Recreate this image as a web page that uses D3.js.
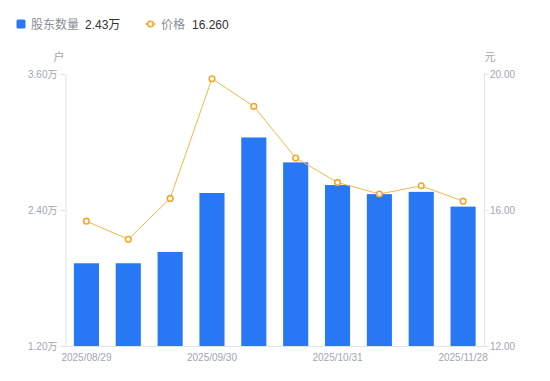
<!DOCTYPE html>
<html>
<head>
<meta charset="utf-8">
<script src="https://cdn.jsdelivr.net/npm/d3@7"></script>
<style>
  body { margin: 0; background: #fff; }
  text { font-family: "Liberation Sans", Arial, "Noto Sans CJK SC", sans-serif; }
</style>
</head>
<body>
<div id="chart"></div>
<script>
const dates = ["2025/08/29", "2025/09/10", "2025/09/19", "2025/09/30", "2025/10/10",
               "2025/10/20", "2025/10/31", "2025/11/10", "2025/11/20", "2025/11/28"];
const holders = [1.93, 1.93, 2.03, 2.55, 3.04, 2.82, 2.62, 2.54, 2.56, 2.43]; // 万户
const prices = [15.67, 15.14, 16.34, 19.86, 19.05, 17.53, 16.81, 16.47, 16.71, 16.26];
const shownDates = ["2025/08/29", "2025/09/30", "2025/10/31", "2025/11/28"];
const leftTicks = [1.2, 2.4, 3.6];
const rightTicks = [12, 16, 20];

(() => {
    const W = 550, H = 381;
    const margin = { top: 74, right: 66, bottom: 35, left: 65.5 };
    const width = W - margin.left - margin.right;
    const height = H - margin.top - margin.bottom;

    const barColor = "#2877F5";
    const lineColor = "#F7B64A";
    const dotColor = "#F5A729";
    const axisColor = "#E3E4E8";
    const tickText = "#A3A6B0";

    const root = d3.select("#chart").append("svg")
        .attr("width", W)
        .attr("height", H);

    const svg = root.append("g")
        .attr("transform", `translate(${margin.left},${margin.top})`);

    const x = d3.scaleBand()
        .domain(dates)
        .range([0, width])
        .paddingInner(0.4)
        .paddingOuter(0.2);

    const yL = d3.scaleLinear().domain([1.2, 3.6]).range([height, 0]);
    const yR = d3.scaleLinear().domain([12, 20]).range([height, 0]);

    // Bars
    svg.selectAll("rect.bar")
        .data(holders)
        .enter().append("rect")
        .attr("class", "bar")
        .attr("x", (d, i) => x(dates[i]))
        .attr("y", d => yL(d))
        .attr("width", x.bandwidth())
        .attr("height", d => height - yL(d))
        .attr("fill", barColor);

    // Axes
    const styleAxis = g => {
        g.select(".domain").attr("stroke", axisColor);
        g.selectAll(".tick line").attr("stroke", axisColor);
        g.selectAll(".tick text").attr("fill", tickText).style("font-size", "10px");
    };

    svg.append("g")
        .call(d3.axisLeft(yL).tickValues(leftTicks).tickSize(5).tickSizeOuter(0)
            .tickFormat(d => d3.format(".2f")(d) + "万"))
        .call(styleAxis)
        .call(g => g.selectAll(".tick text").attr("x", -8));

    svg.append("g")
        .attr("transform", `translate(${width},0)`)
        .call(d3.axisRight(yR).tickValues(rightTicks).tickSize(5).tickSizeOuter(0)
            .tickFormat(d3.format(".2f")))
        .call(styleAxis)
        .call(g => g.selectAll(".tick text").attr("x", 6));

    svg.append("g")
        .attr("transform", `translate(0,${height})`)
        .call(d3.axisBottom(x).tickValues(shownDates).tickSize(0).tickSizeOuter(0))
        .call(styleAxis)
        .call(g => g.selectAll(".tick text").attr("dy", "1.15em"));

    // Unit labels
    svg.append("text")
        .attr("x", -6.5).attr("y", -13)
        .attr("text-anchor", "middle")
        .attr("fill", tickText)
        .style("font-size", "11px")
        .text("户");

    svg.append("text")
        .attr("x", width + 6).attr("y", -13)
        .attr("text-anchor", "middle")
        .attr("fill", tickText)
        .style("font-size", "11px")
        .text("元");

    // Price line
    const cx = i => x(dates[i]) + x.bandwidth() / 2;
    const line = d3.line()
        .x((d, i) => cx(i))
        .y(d => yR(d));

    svg.append("path")
        .datum(prices)
        .attr("fill", "none")
        .attr("stroke", lineColor)
        .attr("stroke-width", 1)
        .attr("d", line);

    svg.selectAll("circle.dot")
        .data(prices)
        .enter().append("circle")
        .attr("class", "dot")
        .attr("cx", (d, i) => cx(i))
        .attr("cy", d => yR(d))
        .attr("r", 2.8)
        .attr("fill", "#fff")
        .attr("stroke", dotColor)
        .attr("stroke-width", 1.6);

    // Legend
    const legend = root.append("g").attr("transform", "translate(0,24)");

    legend.append("rect")
        .attr("x", 16.5).attr("y", -4.5)
        .attr("width", 9).attr("height", 9)
        .attr("rx", 1.5)
        .attr("fill", barColor);

    legend.append("text")
        .attr("x", 31).attr("y", 4.5)
        .attr("fill", "#8A8E99")
        .style("font-size", "12px")
        .text("股东数量");

    legend.append("text")
        .attr("x", 85).attr("y", 4.5)
        .attr("fill", "#333")
        .style("font-size", "12px")
        .text(d3.format(".2f")(holders[holders.length - 1]) + "万");

    legend.append("line")
        .attr("x1", 145.5).attr("x2", 155.5)
        .attr("y1", 0).attr("y2", 0)
        .attr("stroke", dotColor)
        .attr("stroke-width", 1.5);

    legend.append("circle")
        .attr("cx", 150.5).attr("cy", 0)
        .attr("r", 2.8)
        .attr("fill", "#fff")
        .attr("stroke", dotColor)
        .attr("stroke-width", 1.6);

    legend.append("text")
        .attr("x", 161).attr("y", 4.5)
        .attr("fill", "#8A8E99")
        .style("font-size", "12px")
        .text("价格");

    legend.append("text")
        .attr("x", 192).attr("y", 4.5)
        .attr("fill", "#333")
        .style("font-size", "12px")
        .text(d3.format(".3f")(prices[prices.length - 1]));
})();
</script>
</body>
</html>
